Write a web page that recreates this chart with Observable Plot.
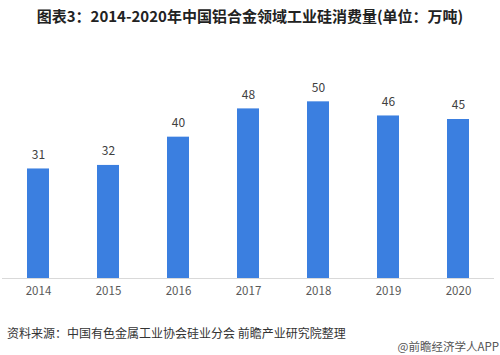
<!DOCTYPE html>
<html>
<head>
<meta charset="utf-8">
<script src="https://cdn.jsdelivr.net/npm/d3@7"></script>
<script src="https://cdn.jsdelivr.net/npm/@observablehq/plot@0.6"></script>
<style>
  html, body { margin: 0; padding: 0; background: #fff; }
  body { width: 500px; height: 355px; position: relative; overflow: hidden; font-family: "Noto Sans CJK SC", "Noto Sans", sans-serif; }
  #title { position: absolute; top: 5px; left: 0; width: 500px; text-align: center; font-size: 15px; font-weight: bold; color: #222; line-height: 22px; }
  #chart { position: absolute; top: 40px; left: 0; }
  #source { position: absolute; top: 324px; left: 7px; font-size: 12px; color: #333; line-height: 18px; }
  #brand { position: absolute; top: 339px; right: 1px; font-size: 11.5px; color: #555; line-height: 14px; }
</style>
</head>
<body>
<div id="title">图表3：2014-2020年中国铝合金领域工业硅消费量(单位：万吨)</div>
<div id="chart"></div>
<div id="source">资料来源：中国有色金属工业协会硅业分会 前瞻产业研究院整理</div>
<div id="brand">@前瞻经济学人APP</div>
<script>
const years = ["2014", "2015", "2016", "2017", "2018", "2019", "2020"];
const values = [31, 32, 40, 48, 50, 46, 45];
const data = years.map((y, i) => ({year: y, value: values[i]}));

const chart = Plot.plot({
  width: 500,
  height: 260,
  marginTop: 26,
  marginBottom: 22,
  marginLeft: 2,
  marginRight: 6,
  style: {fontFamily: "'Noto Sans CJK SC', 'Noto Sans', sans-serif", background: "#fff"},
  x: {domain: years, paddingInner: 0.687, paddingOuter: 0.3435, label: null, tickSize: 0, tickPadding: 6},
  y: {domain: [0, 60], axis: null},
  marks: [
    Plot.barY(data, {x: "year", y: "value", fill: "#3b7fe0"}),
    Plot.ruleY([0], {stroke: "#d9d9d9", strokeWidth: 1}),
    Plot.text(data, {x: "year", y: "value", text: d => String(d.value), dy: -14, fontSize: 12, fill: "#404040"}),
    Plot.axisX({tickSize: 0, tickPadding: 8, fontSize: 11.5, color: "#595959", label: null})
  ]
});
document.getElementById("chart").appendChild(chart);
</script>
</body>
</html>
